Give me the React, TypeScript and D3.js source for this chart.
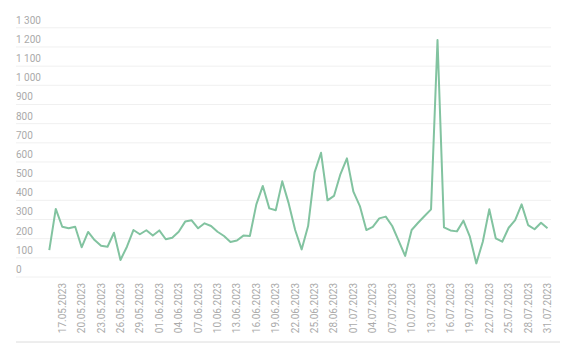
import React from "react";
import * as d3 from "d3";

const START_DATE = "15.05.2023";
const END_DATE = "31.07.2023";
const values: number[] = [
  140, 355, 262, 254, 262, 155, 235, 193, 163, 158,
  231, 89, 158, 245, 223, 244, 216, 243, 197, 205,
  236, 289, 296, 254, 280, 266, 236, 214, 183, 190,
  216, 214, 379, 475, 358, 348, 499, 384, 245, 144,
  266, 546, 648, 400, 423, 537, 619, 445, 370, 245,
  262, 306, 315, 266, 188, 110, 245, 283, 318, 353,
  1236, 259, 243, 238, 294, 210, 71, 184, 353, 202,
  184, 257, 297, 379, 271, 249, 283, 254,
];
const yTicks = [0, 100, 200, 300, 400, 500, 600, 700, 800, 900, 1000, 1100, 1200, 1300];

const parse = d3.timeParse("%d.%m.%Y");
const fmt = d3.timeFormat("%d.%m.%Y");

export default function App() {
  const W = 579, H = 354;
  const start = parse(START_DATE)!;
  const end = parse(END_DATE)!;
  const dates = values.map((_, i) => d3.timeDay.offset(start, i));
  const x = d3.scaleTime().domain([start, end]).range([49.3, 547.5]);
  const y = d3.scaleLinear().domain([0, 1300]).range([277, 27.8]);
  const xTicks = d3.timeDay.range(d3.timeDay.offset(start, 2), d3.timeDay.offset(end, 1), 3);
  const line = d3.line<number>().x((_, i) => x(dates[i])).y((d) => y(d));
  const font = "Roboto, sans-serif";
  return (
    <svg width={W} height={H} style={{ position: "absolute", left: 0, top: 0, background: "#fff" }}>
      {yTicks.map((t) => (
        <g key={t}>
          <line x1={16} x2={551} y1={y(t)} y2={y(t)} stroke="#f0f0f0" strokeWidth={1} />
          <text x={16} y={y(t) - 4} fontFamily={font} fontSize={10} fill="#aaa">
            {d3.format(",")(t).replace(/,/g, " ")}
          </text>
        </g>
      ))}
      <line x1={16} x2={560} y1={342} y2={342} stroke="#dcdcdc" strokeWidth={1} />
      {xTicks.map((d) => (
        <text
          key={+d}
          transform={`translate(${x(d)},283) rotate(-90)`}
          textAnchor="end"
          dy="0.35em"
          fontFamily={font}
          fontSize={10}
          fill="#aaa"
        >
          {fmt(d)}
        </text>
      ))}
      <path d={line(values)!} fill="none" stroke="#82c3a0" strokeWidth={2} strokeLinejoin="round" />
    </svg>
  );
}
